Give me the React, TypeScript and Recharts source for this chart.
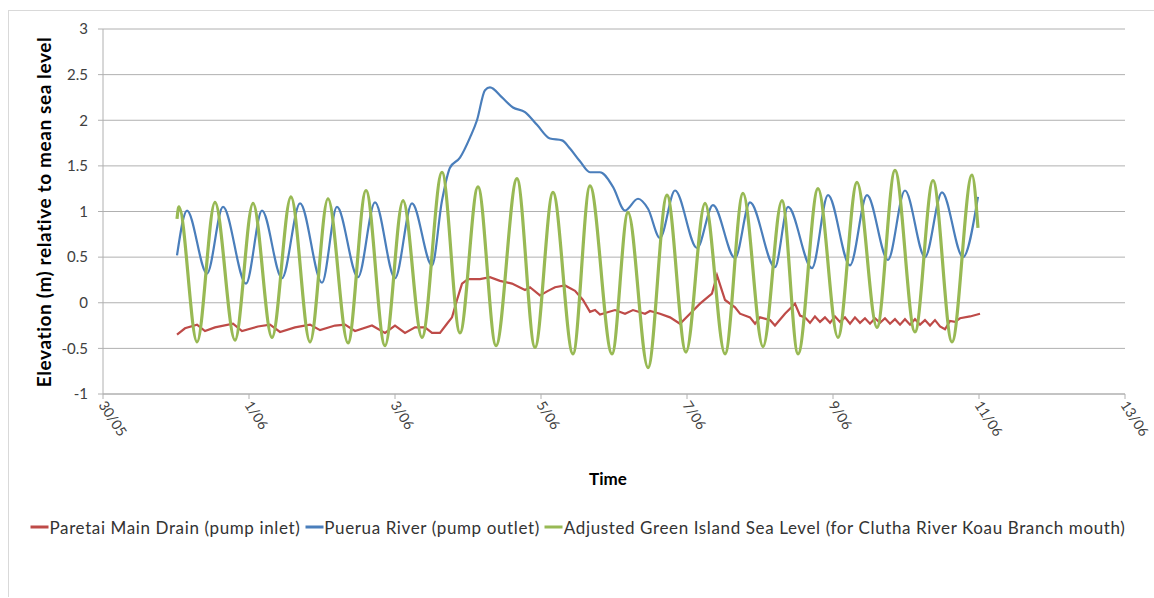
import { LineChart, Line, XAxis, YAxis, CartesianGrid } from "recharts";

// time is in days after 30/05 00:00
const dayTicks = [0, 2, 4, 6, 8, 10, 12, 14];
const dayLabels = ["30/05", "1/06", "3/06", "5/06", "7/06", "9/06", "11/06", "13/06"];
const levelTicks = [-1, -0.5, 0, 0.5, 1, 1.5, 2, 2.5, 3];

const seriesNames = [
  "Paretai Main Drain (pump inlet)",
  "Puerua River (pump outlet)",
  "Adjusted Green Island Sea Level (for Clutha River Koau Branch mouth)",
];
const seriesColors = ["#BE4B48", "#4A7EBB", "#98B954"];

const drainTime = [
  1.014, 1.123, 1.288, 1.397, 1.534, 1.781, 1.904, 2.123, 2.288, 2.425, 2.63, 2.836, 2.973, 3.178,
  3.315, 3.452, 3.685, 3.863, 4.0, 4.137, 4.274, 4.411, 4.507, 4.616, 4.712, 4.781, 4.849, 4.918,
  5.0, 5.164, 5.301, 5.438, 5.603, 5.781, 5.849, 5.986, 6.096, 6.192, 6.329, 6.466, 6.575, 6.671,
  6.74, 6.808, 7.014, 7.151, 7.26, 7.425, 7.493, 7.63, 7.767, 7.904, 8.041, 8.178, 8.342, 8.411,
  8.521, 8.658, 8.726, 8.863, 8.932, 9.0, 9.137, 9.205, 9.342, 9.479, 9.548, 9.616, 9.685, 9.753,
  9.822, 9.89, 9.959, 10.027, 10.096, 10.164, 10.233, 10.301, 10.37, 10.438, 10.507, 10.575,
  10.644, 10.712, 10.781, 10.849, 10.918, 10.986, 11.055, 11.123, 11.192, 11.26, 11.329, 11.397,
  11.466, 11.534, 11.603, 11.671, 11.74, 11.877, 12.014,
];
const drainLevel = [
  -0.35, -0.28, -0.24, -0.31, -0.27, -0.23, -0.31, -0.26, -0.24, -0.32, -0.27, -0.24, -0.3, -0.25,
  -0.24, -0.31, -0.25, -0.33, -0.25, -0.33, -0.27, -0.27, -0.33, -0.33, -0.23, -0.16, 0.03, 0.21,
  0.26, 0.26, 0.28, 0.24, 0.21, 0.14, 0.17, 0.08, 0.13, 0.17, 0.19, 0.13, 0.03, -0.1,
  -0.08, -0.13, -0.08, -0.12, -0.08, -0.12, -0.09, -0.12, -0.16, -0.23, -0.12, -0.01, 0.1, 0.3,
  0.03, -0.05, -0.12, -0.16, -0.23, -0.16, -0.19, -0.25, -0.12, -0.01, -0.14, -0.16, -0.22, -0.15,
  -0.21, -0.16, -0.22, -0.15, -0.21, -0.16, -0.23, -0.16, -0.22, -0.17, -0.23, -0.17,
  -0.22, -0.17, -0.23, -0.18, -0.24, -0.18, -0.24, -0.18, -0.24, -0.19, -0.25, -0.19,
  -0.26, -0.29, -0.2, -0.21, -0.17, -0.15, -0.12,
];

const riverTime = [
  1.014, 1.151, 1.425, 1.644, 1.959, 2.178, 2.452, 2.699, 3.0, 3.205, 3.493, 3.726, 4.0, 4.233,
  4.507, 4.644, 4.753, 4.89, 5.027, 5.123, 5.233, 5.301, 5.466, 5.616, 5.781, 5.945, 6.123, 6.288,
  6.397, 6.534, 6.671, 6.808, 6.986, 7.151, 7.329, 7.466, 7.63, 7.836, 8.137, 8.356, 8.658, 8.863,
  9.205, 9.384, 9.712, 9.932, 10.233, 10.466, 10.753, 10.986, 11.26, 11.493, 11.781, 11.986,
];
const riverLevel = [
  0.52, 1.01, 0.32, 1.05, 0.21, 1.01, 0.27, 1.09, 0.22, 1.05, 0.28, 1.1, 0.27, 1.09,
  0.41, 1.12, 1.48, 1.59, 1.81, 2.0, 2.33, 2.36, 2.25, 2.14, 2.09, 1.95, 1.8, 1.78,
  1.69, 1.55, 1.43, 1.43, 1.27, 1.01, 1.14, 1.03, 0.71, 1.23, 0.6, 1.07, 0.49, 1.1,
  0.39, 1.05, 0.38, 1.18, 0.41, 1.18, 0.47, 1.23, 0.5, 1.21, 0.5, 1.16,
];

const seaTime = [
  1.014, 1.04, 1.288, 1.534, 1.808, 2.055, 2.315, 2.575, 2.836, 3.082, 3.356, 3.603, 3.863, 4.11,
  4.37, 4.644, 4.89, 5.137, 5.384, 5.671, 5.918, 6.164, 6.438, 6.671, 6.973, 7.192, 7.466, 7.726,
  7.986, 8.247, 8.521, 8.767, 9.041, 9.301, 9.521, 9.795, 10.068, 10.329, 10.603, 10.849, 11.123,
  11.37, 11.63, 11.904, 11.986,
];
const seaLevel = [
  0.92, 1.05, -0.43, 1.1, -0.41, 1.09, -0.38, 1.16, -0.43, 1.14, -0.44, 1.23, -0.47, 1.12,
  -0.38, 1.43, -0.33, 1.27, -0.47, 1.36, -0.49, 1.21, -0.56, 1.28, -0.56, 0.99, -0.71, 1.18,
  -0.54, 1.09, -0.56, 1.2, -0.48, 1.12, -0.56, 1.25, -0.38, 1.32, -0.27, 1.45, -0.32,
  1.34, -0.43, 1.4, 0.82,
];

const zip = (ts: number[], vs: number[]) => ts.map((t, i) => ({ t, v: vs[i] }));
const drainData = zip(drainTime, drainLevel);
const riverData = zip(riverTime, riverLevel);
const seaData = zip(seaTime, seaLevel);

const font = "Lato, 'DejaVu Sans', sans-serif";
const gridColor = "#b0b0b0";

const DateTick = ({ x, y, payload }: any) => {
  const ax = x - 5;
  const ay = y + 4;
  return (
    <text
      x={ax}
      y={ay}
      transform={`rotate(57, ${ax}, ${ay})`}
      textAnchor="start"
      fontSize={14}
      fill="#404040"
      fontFamily={font}
    >
      {dayLabels[dayTicks.indexOf(payload.value)]}
    </text>
  );
};

export default function App() {
  return (
    <div
      style={{
        position: "absolute",
        left: 8,
        top: 10,
        width: 1146,
        height: 586,
        borderTop: "1px solid #d9d9d9",
        borderLeft: "1px solid #d9d9d9",
        fontFamily: font,
        background: "#fff",
      }}
    >
      <LineChart
        width={1145}
        height={585}
        margin={{ top: 18, right: 29, bottom: 142, left: 0 }}
      >
        <CartesianGrid vertical={false} stroke={gridColor} />
        <XAxis
          type="number"
          dataKey="t"
          domain={[0, 14]}
          ticks={dayTicks}
          interval={0}
          height={60}
          stroke={gridColor}
          tickSize={5}
          tick={<DateTick />}
          allowDataOverflow
        />
        <YAxis
          type="number"
          domain={[-1, 3]}
          ticks={levelTicks}
          interval={0}
          width={94}
          stroke={gridColor}
          tickSize={5}
          tickMargin={10}
          tick={{ fontSize: 15, fill: "#404040", fontFamily: font }}
        />
        <Line
          data={drainData}
          dataKey="v"
          name={seriesNames[0]}
          type="linear"
          stroke={seriesColors[0]}
          strokeWidth={2.2}
          dot={false}
          isAnimationActive={false}
        />
        <Line
          data={riverData}
          dataKey="v"
          name={seriesNames[1]}
          type="monotone"
          stroke={seriesColors[1]}
          strokeWidth={2.2}
          dot={false}
          isAnimationActive={false}
        />
        <Line
          data={seaData}
          dataKey="v"
          name={seriesNames[2]}
          type="monotone"
          stroke={seriesColors[2]}
          strokeWidth={3.2}
          dot={false}
          isAnimationActive={false}
        />
      </LineChart>

      <div
        style={{
          position: "absolute",
          left: 34,
          top: 201,
          transform: "translate(-50%, -50%) rotate(-90deg)",
          whiteSpace: "nowrap",
          fontWeight: 700,
          fontSize: 19,
          letterSpacing: 0.6,
          color: "#000",
        }}
      >
        Elevation (m) relative to mean sea level
      </div>

      <div
        style={{
          position: "absolute",
          left: 599,
          top: 467,
          transform: "translate(-50%, -50%)",
          fontWeight: 700,
          fontSize: 17,
          color: "#000",
        }}
      >
        Time
      </div>

      <div
        style={{
          position: "absolute",
          left: 569,
          top: 516,
          transform: "translate(-50%, -50%)",
          display: "flex",
          alignItems: "center",
          whiteSpace: "nowrap",
          fontSize: 17,
          letterSpacing: 0.62,
          color: "#333",
        }}
      >
        {seriesNames.map((name, i) => (
          <div key={name} style={{ display: "flex", alignItems: "center", marginLeft: i ? 5 : 0 }}>
            <span
              style={{
                display: "inline-block",
                width: 18,
                height: 3,
                background: seriesColors[i],
                marginRight: 1,
              }}
            />
            <span>{name}</span>
          </div>
        ))}
      </div>
    </div>
  );
}
